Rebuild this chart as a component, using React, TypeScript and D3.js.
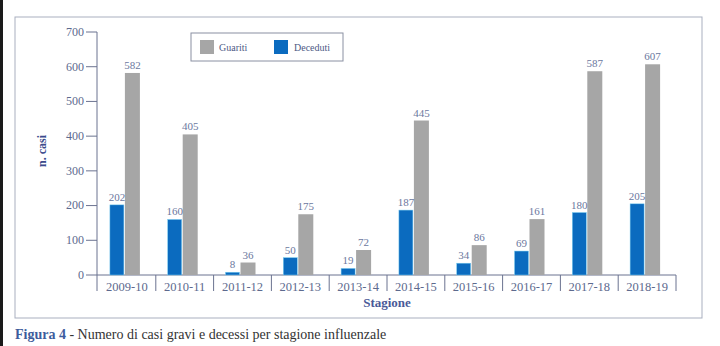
import React from "react";
import * as d3 from "d3";

const seasons = ["2009-10", "2010-11", "2011-12", "2012-13", "2013-14", "2014-15", "2015-16", "2016-17", "2017-18", "2018-19"];
const guariti = [582, 405, 36, 175, 72, 445, 86, 161, 587, 607];
const deceduti = [202, 160, 8, 50, 19, 187, 34, 69, 180, 205];
const yTicks = [0, 100, 200, 300, 400, 500, 600, 700];

const W = 720;
const H = 346;
const serif = "Liberation Serif";

export default function App() {
  const x = d3.scaleBand<string>().domain(seasons).range([98, 676]).padding(0);
  const y = d3.scaleLinear().domain([0, 700]).range([275, 32]);
  const bw = 14;
  const blue = "#0b6bbf";
  const gray = "#a6a6a6";
  const tickColor = "#5d6a8e";
  const labelColor = "#6b789e";

  return (
    <svg width={W} height={H} style={{ position: "absolute", left: 0, top: 0, background: "#fff", fontFamily: "'Liberation Serif', 'DejaVu Serif', serif" }}>
      <rect x={0} y={0} width={W} height={H} fill="#ffffff" />
      <rect x={0} y={0} width={3} height={H} fill="#1a1a1a" />
      {/* frame */}
      <rect x={15} y={17} width={687} height={301} fill="none" stroke="#a9afbf" strokeWidth={1} />

      {/* y axis */}
      <line x1={97} x2={97} y1={y(700)} y2={291} stroke="#6b7390" strokeWidth={1} />
      {yTicks.map((t) => (
        <g key={t}>
          <line x1={86} x2={97} y1={y(t)} y2={y(t)} stroke="#6b7390" strokeWidth={1} />
          <text x={84} y={y(t)} dy="0.32em" textAnchor="end" fontFamily={serif} fontSize={12} fill={tickColor}>
            {t}
          </text>
        </g>
      ))}
      <text
        transform={`translate(46,151) rotate(-90)`}
        textAnchor="middle"
        fontFamily={serif}
        fontSize={12}
        fontWeight="bold"
        fill="#3b4b8c"
      >
        n. casi
      </text>

      {/* x axis */}
      <line x1={97} x2={676} y1={275} y2={275} stroke="#6b7390" strokeWidth={1} />
      {seasons.map((s, i) => (
        <line key={"sep" + i} x1={(x(s) as number) + x.bandwidth()} x2={(x(s) as number) + x.bandwidth()} y1={275} y2={291} stroke="#6b7390" strokeWidth={1} />
      ))}
      {seasons.map((s) => (
        <text key={"lab" + s} x={(x(s) as number) + x.bandwidth() / 2} y={291} textAnchor="middle" fontFamily={serif} fontSize={12.5} fill={tickColor}>
          {s}
        </text>
      ))}
      <text x={387} y={307} textAnchor="middle" fontFamily={serif} fontSize={13} fontWeight="bold" fill="#4a5a98">
        Stagione
      </text>

      {/* bars */}
      {seasons.map((s, i) => {
        const c = (x(s) as number) + x.bandwidth() / 2;
        const bx = c - 17;
        const gx = c - 2;
        return (
          <g key={"bars" + s}>
            <rect x={bx} y={y(deceduti[i])} width={bw} height={y(0) - y(deceduti[i])} fill={blue} stroke="#7fd0f0" strokeWidth={0.5} />
            <rect x={gx} y={y(guariti[i])} width={bw + 1} height={y(0) - y(guariti[i])} fill={gray} />
            <text x={bx + bw / 2} y={y(deceduti[i]) - 4} textAnchor="middle" fontFamily={serif} fontSize={11} fill={labelColor}>
              {deceduti[i]}
            </text>
            <text x={gx + (bw + 1) / 2} y={y(guariti[i]) - 4} textAnchor="middle" fontFamily={serif} fontSize={11} fill={labelColor}>
              {guariti[i]}
            </text>
          </g>
        );
      })}

      {/* legend */}
      <rect x={191} y={33} width={152} height={28} fill="#fff" stroke="#8a90a2" strokeWidth={1} />
      <rect x={200} y={40} width={14} height={14} fill={gray} />
      <text x={219} y={51} fontFamily={serif} fontSize={10} fill="#4d5a85">Guariti</text>
      <rect x={274} y={40} width={14} height={14} fill={blue} />
      <text x={294} y={51} fontFamily={serif} fontSize={10} fill="#4d5a85">Deceduti</text>

      {/* caption */}
      <text x={15} y={339} fontFamily={serif} fontSize={14} fill="#333">
        <tspan fontWeight="bold" fill="#3d5c9c">Figura 4</tspan>
        <tspan> - Numero di casi gravi e decessi per stagione influenzale</tspan>
      </text>
    </svg>
  );
}
